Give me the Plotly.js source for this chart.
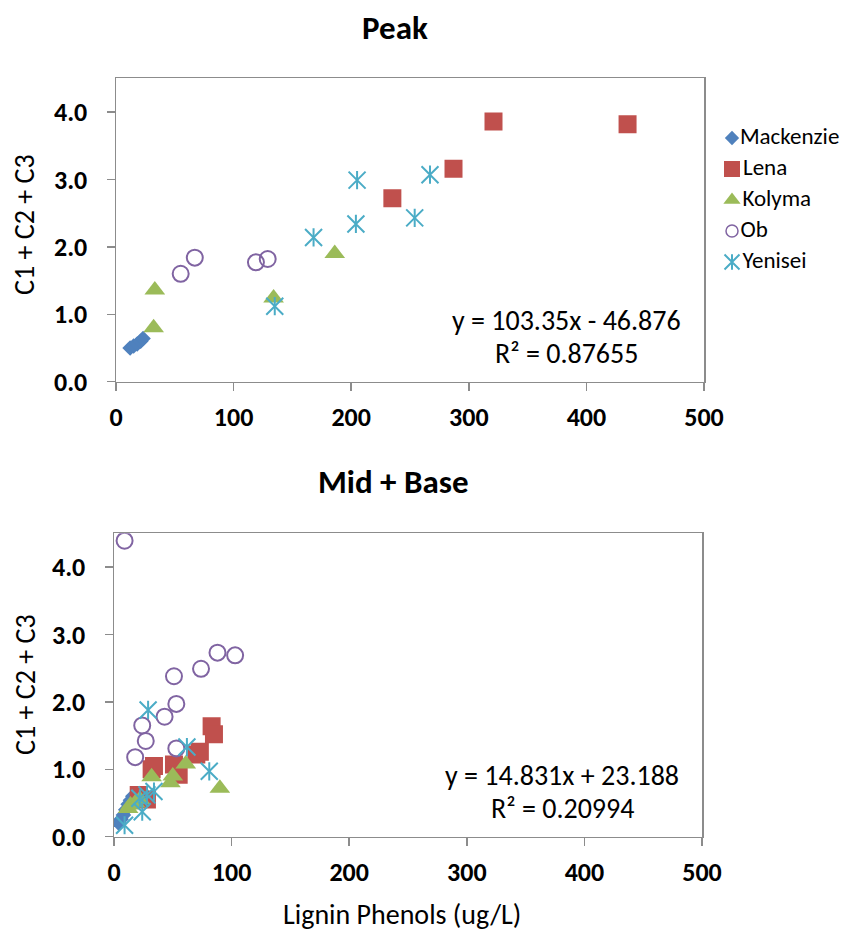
<!DOCTYPE html>
<html>
<head>
<meta charset="utf-8">
<script src="https://cdn.plot.ly/plotly-3.0.1.min.js"></script>
<style>
  html, body { margin: 0; padding: 0; background: #ffffff; }
  #chart { width: 850px; height: 935px; }
</style>
</head>
<body>
<div id="chart"></div>
<script>
// Rivers and their series styles
const rivers = ['Mackenzie', 'Lena', 'Kolyma', 'Ob', 'Yenisei'];
const riverColors = ['#4F81BD', '#C0504D', '#9BBB59', '#8064A2', '#4BACC6'];

// Peak flow: lignin phenols (ug/L) vs C1 + C2 + C3
const peakMackenzieX = [12, 15, 18, 21, 23];
const peakMackenzieY = [0.50, 0.53, 0.56, 0.60, 0.64];
const peakLenaX = [235, 287, 321, 435];
const peakLenaY = [2.72, 3.16, 3.86, 3.82];
const peakKolymaX = [32, 33, 134, 186];
const peakKolymaY = [0.80, 1.36, 1.24, 1.90];
const peakObX = [55, 67, 119, 129];
const peakObY = [1.60, 1.84, 1.77, 1.82];
const peakYeniseiX = [135, 168, 204, 205, 254, 267];
const peakYeniseiY = [1.12, 2.14, 2.34, 2.99, 2.43, 3.07];

// Mid + base flow
const midMackenzieX = [4, 6, 8, 10, 12, 14, 16];
const midMackenzieY = [0.20, 0.26, 0.32, 0.40, 0.48, 0.54, 0.60];
const midLenaX = [21, 28, 32, 34, 51, 55, 70, 73, 83, 85];
const midLenaY = [0.62, 0.55, 1.00, 1.05, 1.07, 0.92, 1.22, 1.26, 1.64, 1.52];
const midKolymaX = [12, 14, 18, 22, 32, 48, 50, 61, 90];
const midKolymaY = [0.42, 0.47, 0.50, 0.55, 0.89, 0.80, 0.90, 1.08, 0.72];
const midObX = [9, 18, 24, 27, 43, 51, 53, 53, 74, 88, 103];
const midObY = [4.39, 1.18, 1.65, 1.42, 1.78, 2.38, 1.97, 1.31, 2.49, 2.73, 2.69];
const midYeniseiX = [9, 22, 24, 28, 29, 34, 62, 81];
const midYeniseiY = [0.17, 0.57, 0.37, 0.62, 1.88, 0.67, 1.33, 0.97];

// Axis ticks
const xTicks = [0, 100, 200, 300, 400, 500];
const yTicks = [0, 1, 2, 3, 4];

// Panel titles and fit labels
const panelTitles = ['Peak', 'Mid + Base'];
const fitEquations = ['y = 103.35x - 46.876', 'y = 14.831x + 23.188'];
const fitR2 = ['R\u00b2 = 0.87655', 'R\u00b2 = 0.20994'];
const yTitle = 'C1 + C2 + C3';
const xTitle = 'Lignin Phenols (ug/L)';

const FONT = 'Carlito, Lato, "Open Sans", sans-serif';

// Marker styles per river (Yenisei is an X plus a vertical bar)
function markerFor(i) {
  const c = riverColors[i];
  switch (i) {
    case 0: return { symbol: 'diamond', size: 12, color: c, line: { width: 0 } };
    case 1: return { symbol: 'square', size: 18, color: c, line: { width: 0 } };
    case 2: return { symbol: 'triangle-up', size: 18, color: c, line: { width: 0 } };
    case 3: return { symbol: 'circle-open', size: 16, color: c, line: { width: 2, color: c } };
    default: return { symbol: 'x-thin-open', size: 17, color: c, line: { width: 2, color: c } };
  }
}
function barMarker() {
  const c = riverColors[4];
  return { symbol: 'line-ns-open', size: 13, color: c, line: { width: 2, color: c } };
}

const peakSeries = [
  [peakMackenzieX, peakMackenzieY], [peakLenaX, peakLenaY], [peakKolymaX, peakKolymaY],
  [peakObX, peakObY], [peakYeniseiX, peakYeniseiY]
];
const midSeries = [
  [midMackenzieX, midMackenzieY], [midLenaX, midLenaY], [midKolymaX, midKolymaY],
  [midObX, midObY], [midYeniseiX, midYeniseiY]
];

const traces = [];
function addPanel(series, xa, ya) {
  series.forEach(([xs, ys], i) => {
    traces.push({ type: 'scatter', mode: 'markers', name: rivers[i], x: xs, y: ys,
      xaxis: xa, yaxis: ya, marker: markerFor(i), showlegend: false, hoverinfo: 'x+y' });
    if (i === 4) {
      traces.push({ type: 'scatter', mode: 'markers', name: rivers[i], x: xs, y: ys,
        xaxis: xa, yaxis: ya, marker: barMarker(), showlegend: false, hoverinfo: 'skip' });
    }
  });
}
addPanel(peakSeries, 'x', 'y');
addPanel(midSeries, 'x2', 'y2');

// Key: one row per river on its own small axis pair
const keyRows = rivers.map((_, i) => i);
const keySizes = [11, 16, 15, 12, 15];
rivers.forEach((name, i) => {
  const km = Object.assign({}, markerFor(i), { size: keySizes[i] });
  if (i === 3) km.line = { width: 1.5, color: riverColors[3] };
  traces.push({ type: 'scatter', mode: 'markers+text', x: [0], y: [keyRows[i]],
    text: [name], textposition: 'middle right',
    textfont: { family: FONT, size: 23, color: '#000000' },
    xaxis: 'x3', yaxis: 'y3', marker: km, showlegend: false, hoverinfo: 'skip', cliponaxis: false });
  if (i === 4) {
    traces.push({ type: 'scatter', mode: 'markers', x: [0], y: [keyRows[i]],
      xaxis: 'x3', yaxis: 'y3', marker: Object.assign(barMarker(), { size: 11 }),
      showlegend: false, hoverinfo: 'skip', cliponaxis: false });
  }
});

const axisLine = '#8C8C8C';
function xAxis(domain, anchor) {
  return { domain: domain, anchor: anchor, range: [0, 500], tickvals: xTicks,
    showgrid: false, zeroline: false, showline: true, mirror: true,
    linecolor: axisLine, linewidth: 1.5, ticks: 'outside', ticklen: 8, tickwidth: 1.5,
    tickcolor: axisLine, ticklabelstandoff: 4,
    tickfont: { family: FONT, size: 26, color: '#000000', weight: 'bold' } };
}
function yAxis(domain, anchor) {
  return { domain: domain, anchor: anchor, range: [0, 4.5], tickvals: yTicks,
    tickformat: '.1f', showgrid: false, zeroline: false, showline: true, mirror: true,
    linecolor: axisLine, linewidth: 1.5, ticks: 'outside', ticklen: 8, tickwidth: 1.5,
    tickcolor: axisLine, ticklabelstandoff: 14,
    tickfont: { family: FONT, size: 26, color: '#000000', weight: 'bold' } };
}

const W = 850, H = 935;
const px = v => v / W;
const py = v => 1 - v / H;

function label(text, x, y, size, extra) {
  return Object.assign({ text: text, x: px(x), y: py(y), xref: 'paper', yref: 'paper',
    xanchor: 'center', yanchor: 'middle', showarrow: false,
    font: { family: FONT, size: size, color: '#000000' } }, extra || {});
}

const layout = {
  width: W, height: H,
  margin: { l: 0, r: 0, t: 0, b: 0 },
  paper_bgcolor: '#ffffff', plot_bgcolor: '#ffffff',
  showlegend: false,
  font: { family: FONT, color: '#000000' },
  xaxis: xAxis([px(116), px(704)], 'y'),
  yaxis: yAxis([py(381.7), py(78.3)], 'x'),
  xaxis2: xAxis([px(114), px(702)], 'y2'),
  yaxis2: yAxis([py(836.7), py(533.3)], 'x2'),
  xaxis3: { domain: [px(722), px(850)], anchor: 'y3', range: [-1, 11.8], visible: false, fixedrange: true },
  yaxis3: { domain: [py(277.5), py(122.5)], anchor: 'x3', range: [4.5, -0.5], visible: false, fixedrange: true },
  annotations: [
    label(panelTitles[0], 395, 28, 33, { font: { family: FONT, size: 33, weight: 'bold', color: '#000000' } }),
    label(panelTitles[1], 393, 482, 33, { font: { family: FONT, size: 33, weight: 'bold', color: '#000000' } }),
    label(yTitle, 25, 225, 28, { textangle: -90 }),
    label(yTitle, 25, 685, 28, { textangle: -90 }),
    label(xTitle, 402, 914, 28),
    label(fitEquations[0], 566, 320, 28),
    label(fitR2[0], 566, 353, 28),
    label(fitEquations[1], 562, 775, 28),
    label(fitR2[1], 562, 808, 28)
  ]
};

Plotly.newPlot('chart', traces, layout, { staticPlot: true, displayModeBar: false });
</script>
</body>
</html>
